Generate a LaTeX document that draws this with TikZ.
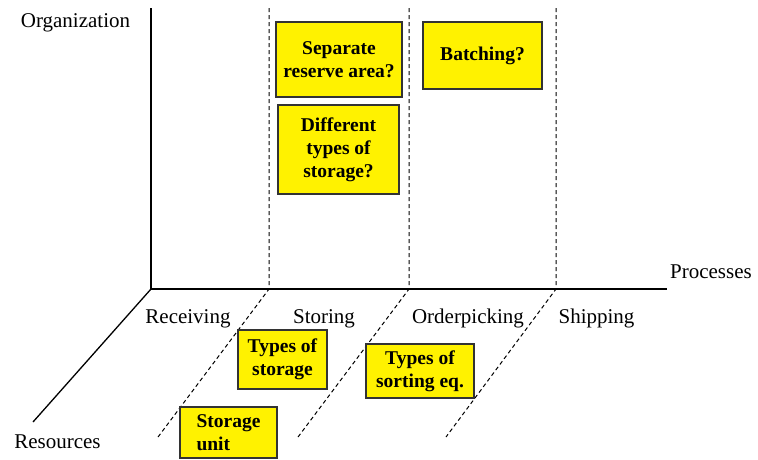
\documentclass[tikz,border=0pt]{standalone}
\usepackage{fontspec}
\setmainfont{Liberation Serif}
\begin{document}
\begin{tikzpicture}[x=1pt,y=-1pt,
  axis/.style={line width=1.3pt, black},
  guide/.style={line width=1pt, black, dash pattern=on 4pt off 3pt},
  lbl/.style={font=\fontsize{21}{24}\selectfont, anchor=base, inner sep=0pt},
  qbox/.style={draw=black!80, line width=1.3pt, fill=yellow, inner sep=0pt,
    font=\fontsize{19.5}{23}\selectfont\bfseries, align=center}]
\useasboundingbox (0,0) rectangle (758,459);
% axes
\coordinate (O) at (151,289);
\coordinate (Otop) at (151,8);
\coordinate (Oright) at (667,289);
\coordinate (Odiag) at (33,422);
\draw[axis] (Otop) -- (O) -- (Oright);
\draw[axis] (O) -- (Odiag);
% dashed guides
\foreach \n/\x/\xb in {a/269/158, b/409/298, c/556/446}{
  \coordinate (\n top) at (\x,8);
  \coordinate (\n mid) at (\x,289);
  \coordinate (\n bot) at (\xb,437);
  \draw[guide] (\n top) -- (\n mid) -- (\n bot);
}
% axis labels
\node[lbl] (org) at (75.5,27) {Organization};
\node[lbl] (proc) at (711,278) {Processes};
\node[lbl] (res) at (57.5,448) {Resources};
\node[lbl] (rec) at (188,323) {Receiving};
\node[lbl] (sto) at (324,323) {Storing};
\node[lbl] (ord) at (468,323) {Orderpicking};
\node[lbl] (shp) at (596.5,323) {Shipping};
% boxes
\node[qbox, minimum width=126pt, minimum height=75pt] (sep) at (339,59.5) {Separate\\reserve area?};
\node[qbox, minimum width=121pt, minimum height=89pt] (diff) at (338.5,149.5) {Different\\types of\\storage?};
\node[qbox, minimum width=119pt, minimum height=67pt] (bat) at (482.5,55.5) {Batching?};
\node[qbox, minimum width=89pt, minimum height=59pt] (tos) at (282.5,359.5) {Types of\\storage};
\node[qbox, minimum width=108pt, minimum height=54pt] (tse) at (420,371) {Types of\\sorting eq.};
\node[qbox, minimum width=97pt, minimum height=51pt, align=left] (su) at (228.5,432.5) {Storage\\unit};
\end{tikzpicture}
\end{document}
